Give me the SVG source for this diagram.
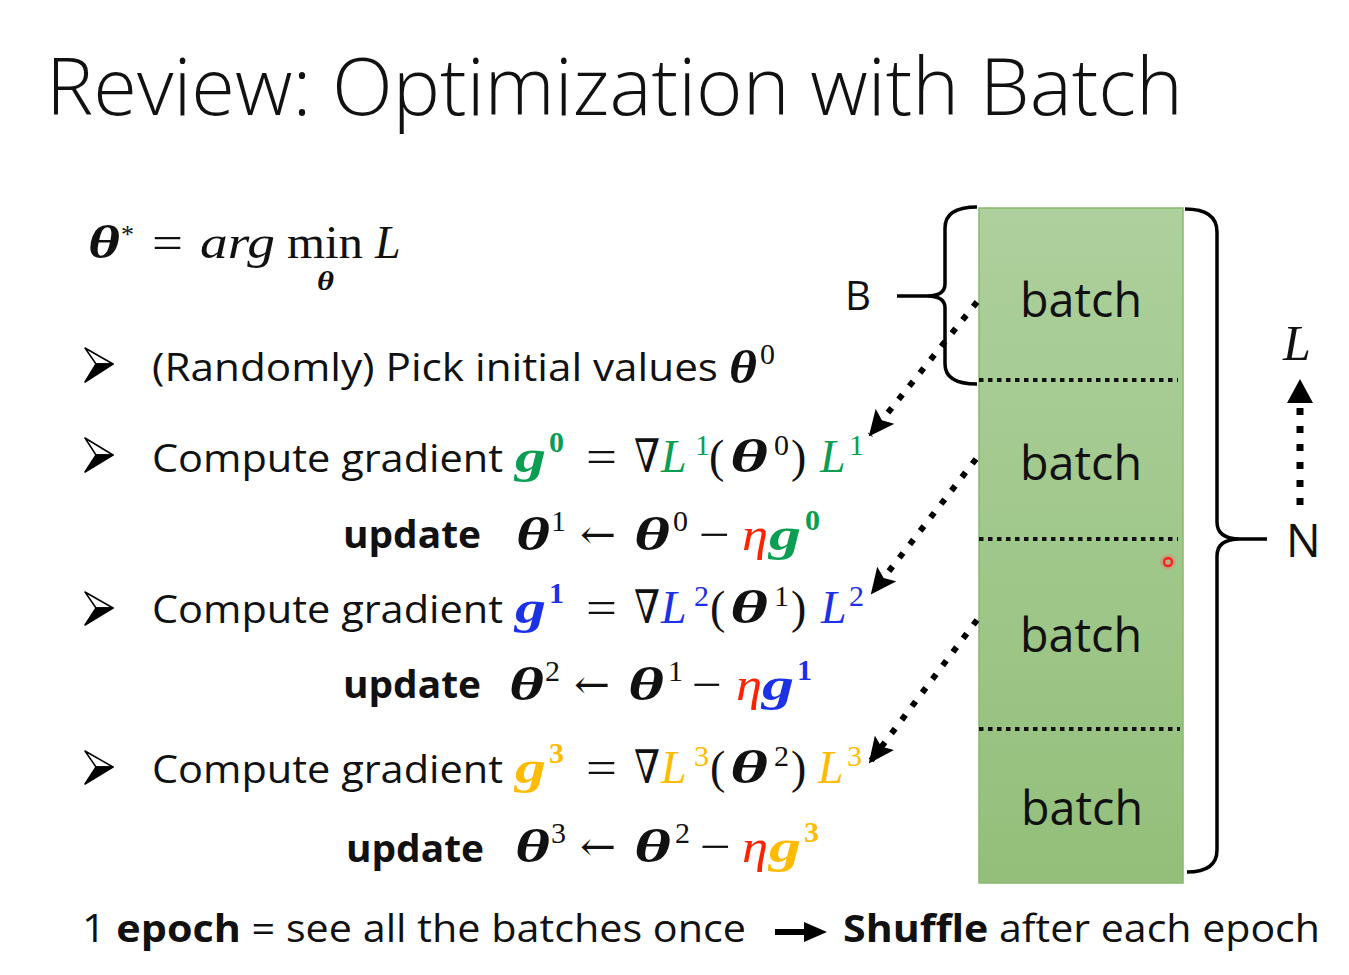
<svg xmlns="http://www.w3.org/2000/svg" width="1349" height="975" viewBox="0 0 1349 975">
<defs>
<linearGradient id="gr" x1="0" y1="0" x2="0" y2="1">
<stop offset="0" stop-color="#aed09d"/>
<stop offset="1" stop-color="#93bf7a"/>
</linearGradient>
<marker id="ah" viewBox="0 0 26 24" refX="24" refY="12" markerWidth="26" markerHeight="24" markerUnits="userSpaceOnUse" orient="auto">
<path d="M0,0 L26,12 L0,24 L5,12 Z" fill="#000"/>
</marker>
<style>
.s{font-family:"Open Sans","Liberation Sans",sans-serif;fill:#111}
.t{font-size:80px;font-weight:300}
.b{font-size:38px}
.bb{font-size:38px;font-weight:bold}
.bt{font-size:48px}
.m{font-family:"Liberation Serif","DejaVu Serif",serif;font-size:46px;fill:#111}
.mi{font-style:italic}
.mb{font-style:italic;font-weight:bold}
.sp{font-size:30px}
.spb{font-size:30px;font-weight:bold}
.ar{font-family:"DejaVu Serif",serif;font-size:40px}
.gn{fill:#0a9e52}
.bl{fill:#1c30e6}
.yl{fill:#ffbb00}
.rd{fill:#ff2200}
.dl{stroke:#000;stroke-width:6;fill:none;stroke-dasharray:6 11}
.sep{stroke:#111;stroke-width:4;stroke-dasharray:4.5 4.5;fill:none}
.br{stroke:#000;stroke-width:3.5;fill:none}
</style>
</defs>
<rect width="1349" height="975" fill="#fff"/>

<text class="s t" x="46" y="115" textLength="1137" lengthAdjust="spacingAndGlyphs">Review: Optimization with Batch</text>

<g id="objective">
<text class="m mb" x="88" y="258" textLength="32" lengthAdjust="spacingAndGlyphs">θ</text>
<text class="m" x="121" y="243" style="font-size:26px">*</text>
<text class="m" x="152" y="258" textLength="31" lengthAdjust="spacingAndGlyphs">=</text>
<text class="m mi" x="200" y="258" textLength="75" lengthAdjust="spacingAndGlyphs">arg</text>
<text class="m" x="287" y="258" textLength="76" lengthAdjust="spacingAndGlyphs">min</text>
<text class="m mi" x="375" y="258">L</text>
<text class="m mb" x="317" y="290" style="font-size:28px" textLength="17" lengthAdjust="spacingAndGlyphs">θ</text>
</g>

<g id="bullets">
<g id="b1">
<path d="M85,348 L113,364 L96,364 Z" fill="#fff" stroke="#000" stroke-width="1.5" stroke-linejoin="round"/>
<path d="M96,364 L113,364 L85,382 Z" fill="#000" stroke="#000" stroke-width="1.5" stroke-linejoin="round"/>
</g>
<g id="b2">
<path d="M85,438 L113,455 L96,455 Z" fill="#fff" stroke="#000" stroke-width="1.5" stroke-linejoin="round"/>
<path d="M96,455 L113,455 L85,472 Z" fill="#000" stroke="#000" stroke-width="1.5" stroke-linejoin="round"/>
</g>
<g id="b3">
<path d="M85,592 L113,608 L96,608 Z" fill="#fff" stroke="#000" stroke-width="1.5" stroke-linejoin="round"/>
<path d="M96,608 L113,608 L85,625 Z" fill="#000" stroke="#000" stroke-width="1.5" stroke-linejoin="round"/>
</g>
<g id="b4">
<path d="M85,751 L113,767 L96,767 Z" fill="#fff" stroke="#000" stroke-width="1.5" stroke-linejoin="round"/>
<path d="M96,767 L113,767 L85,784 Z" fill="#000" stroke="#000" stroke-width="1.5" stroke-linejoin="round"/>
</g>
</g>

<g id="init">
<text class="s b" x="152" y="381" textLength="566" lengthAdjust="spacingAndGlyphs">(Randomly) Pick initial values</text>
<text class="m mb" x="729" y="383" textLength="28" lengthAdjust="spacingAndGlyphs">θ</text>
<text class="m sp" x="760" y="364">0</text>
</g>

<g id="step1">
<text class="s b" x="152" y="472" textLength="351" lengthAdjust="spacingAndGlyphs">Compute gradient</text>
<text class="m mb gn" x="515" y="472" textLength="31" lengthAdjust="spacingAndGlyphs">g</text>
<text class="m spb gn" x="549" y="452">0</text>
<text class="m" x="586" y="472" textLength="31" lengthAdjust="spacingAndGlyphs">=</text>
<text class="m" x="634" y="472" textLength="26" lengthAdjust="spacingAndGlyphs">∇</text>
<text class="m mi gn" x="661" y="472">L</text>
<text class="m sp gn" x="695" y="455">1</text>
<text class="m" x="709" y="472">(</text>
<text class="m mb" x="730" y="472" textLength="38" lengthAdjust="spacingAndGlyphs">θ</text>
<text class="m sp" x="774" y="455">0</text>
<text class="m" x="791" y="472">)</text>
<text class="m mi gn" x="820" y="472">L</text>
<text class="m sp gn" x="849" y="455">1</text>
<text class="s bb" x="343" y="548" textLength="138" lengthAdjust="spacingAndGlyphs">update</text>
<text class="m mb" x="516" y="550" textLength="34" lengthAdjust="spacingAndGlyphs">θ</text>
<text class="m sp" x="551" y="531">1</text>
<text class="m ar" x="580" y="548" textLength="36" lengthAdjust="spacingAndGlyphs">←</text>
<text class="m mb" x="634" y="550" textLength="36" lengthAdjust="spacingAndGlyphs">θ</text>
<text class="m sp" x="673" y="531">0</text>
<text class="m" x="699" y="550" textLength="31" lengthAdjust="spacingAndGlyphs">−</text>
<text class="m mi rd" x="742" y="550" textLength="26" lengthAdjust="spacingAndGlyphs">η</text>
<text class="m mb gn" x="769" y="550" textLength="32" lengthAdjust="spacingAndGlyphs">g</text>
<text class="m spb gn" x="805" y="530">0</text>
</g>

<g id="step2">
<text class="s b" x="152" y="623" textLength="351" lengthAdjust="spacingAndGlyphs">Compute gradient</text>
<text class="m mb bl" x="515" y="623" textLength="31" lengthAdjust="spacingAndGlyphs">g</text>
<text class="m spb bl" x="549" y="603">1</text>
<text class="m" x="586" y="623" textLength="31" lengthAdjust="spacingAndGlyphs">=</text>
<text class="m" x="634" y="623" textLength="26" lengthAdjust="spacingAndGlyphs">∇</text>
<text class="m mi bl" x="661" y="623">L</text>
<text class="m sp bl" x="694" y="606">2</text>
<text class="m" x="710" y="623">(</text>
<text class="m mb" x="730" y="623" textLength="38" lengthAdjust="spacingAndGlyphs">θ</text>
<text class="m sp" x="774" y="606">1</text>
<text class="m" x="791" y="623">)</text>
<text class="m mi bl" x="821" y="623">L</text>
<text class="m sp bl" x="849" y="606">2</text>
<text class="s bb" x="343" y="698" textLength="138" lengthAdjust="spacingAndGlyphs">update</text>
<text class="m mb" x="509" y="700" textLength="35" lengthAdjust="spacingAndGlyphs">θ</text>
<text class="m sp" x="545" y="681">2</text>
<text class="m ar" x="574" y="698" textLength="36" lengthAdjust="spacingAndGlyphs">←</text>
<text class="m mb" x="628" y="700" textLength="36" lengthAdjust="spacingAndGlyphs">θ</text>
<text class="m sp" x="668" y="681">1</text>
<text class="m" x="692" y="700" textLength="30" lengthAdjust="spacingAndGlyphs">−</text>
<text class="m mi rd" x="736" y="700" textLength="26" lengthAdjust="spacingAndGlyphs">η</text>
<text class="m mb bl" x="762" y="700" textLength="32" lengthAdjust="spacingAndGlyphs">g</text>
<text class="m spb bl" x="797" y="680">1</text>
</g>

<g id="step3">
<text class="s b" x="152" y="783" textLength="351" lengthAdjust="spacingAndGlyphs">Compute gradient</text>
<text class="m mb yl" x="515" y="783" textLength="31" lengthAdjust="spacingAndGlyphs">g</text>
<text class="m spb yl" x="549" y="763">3</text>
<text class="m" x="586" y="783" textLength="31" lengthAdjust="spacingAndGlyphs">=</text>
<text class="m" x="634" y="783" textLength="26" lengthAdjust="spacingAndGlyphs">∇</text>
<text class="m mi yl" x="661" y="783">L</text>
<text class="m sp yl" x="694" y="766">3</text>
<text class="m" x="710" y="783">(</text>
<text class="m mb" x="730" y="783" textLength="38" lengthAdjust="spacingAndGlyphs">θ</text>
<text class="m sp" x="774" y="766">2</text>
<text class="m" x="791" y="783">)</text>
<text class="m mi yl" x="818" y="783">L</text>
<text class="m sp yl" x="847" y="766">3</text>
<text class="s bb" x="346" y="862" textLength="138" lengthAdjust="spacingAndGlyphs">update</text>
<text class="m mb" x="515" y="862" textLength="35" lengthAdjust="spacingAndGlyphs">θ</text>
<text class="m sp" x="551" y="843">3</text>
<text class="m ar" x="580" y="860" textLength="36" lengthAdjust="spacingAndGlyphs">←</text>
<text class="m mb" x="634" y="862" textLength="37" lengthAdjust="spacingAndGlyphs">θ</text>
<text class="m sp" x="675" y="843">2</text>
<text class="m" x="700" y="862" textLength="31" lengthAdjust="spacingAndGlyphs">−</text>
<text class="m mi rd" x="742" y="862" textLength="26" lengthAdjust="spacingAndGlyphs">η</text>
<text class="m mb yl" x="769" y="862" textLength="32" lengthAdjust="spacingAndGlyphs">g</text>
<text class="m spb yl" x="804" y="842">3</text>
</g>

<g id="data">
<rect x="979" y="208" width="204" height="675" fill="url(#gr)" stroke="#88b86c" stroke-width="1.5"/>
<path class="sep" d="M979,380 H1178 M979,539 H1178 M979,729 H1180"/>
<text class="s bt" x="1081" y="317" text-anchor="middle" textLength="122" lengthAdjust="spacingAndGlyphs">batch</text>
<text class="s bt" x="1081" y="480" text-anchor="middle" textLength="122" lengthAdjust="spacingAndGlyphs">batch</text>
<text class="s bt" x="1081" y="652" text-anchor="middle" textLength="122" lengthAdjust="spacingAndGlyphs">batch</text>
<text class="s bt" x="1082" y="825" text-anchor="middle" textLength="122" lengthAdjust="spacingAndGlyphs">batch</text>
<circle cx="1168" cy="562" r="8" fill="#ff6060" opacity="0.25"/>
<circle cx="1168" cy="562" r="4" fill="none" stroke="#ff2020" stroke-width="2.5"/>
</g>

<g id="braceB">
<path class="br" d="M977,207 Q945,207 945,228 L945,284 Q945,296 927,296 Q945,296 945,308 L945,364 Q945,384 977,384 M897,296 L927,296"/>
<text class="s" x="845" y="310" font-size="40" textLength="26" lengthAdjust="spacingAndGlyphs">B</text>
</g>

<g id="braceN">
<path class="br" d="M1185,209 Q1217,209 1217,232 L1217,522 Q1217,539 1240,539 Q1217,539 1217,556 L1217,850 Q1217,872 1187,872 M1240,539 L1267,539"/>
<text class="s" x="1286" y="557" font-size="46">N</text>
<text class="m mi" x="1283" y="360" style="font-size:50px">L</text>
</g>

<g id="connectors">
<path class="dl" d="M977,302 L870,435" marker-end="url(#ah)"/>
<path class="dl" d="M976,459 L872,593" marker-end="url(#ah)"/>
<path class="dl" d="M977,620 L870,762" marker-end="url(#ah)"/>
<path d="M1300,505 L1300,404" stroke="#000" stroke-width="7" stroke-dasharray="7 11" fill="none"/>
<path d="M1300,379 L1313,403 L1287,403 Z" fill="#000"/>
</g>

<g id="footer">
<text class="s b" x="82" y="942" textLength="664" lengthAdjust="spacingAndGlyphs">1 <tspan font-weight="bold">epoch</tspan> = see all the batches once</text>
<path d="M775,932 L808,932" stroke="#000" stroke-width="6"/>
<path d="M804,922 L827,932 L804,942 Z" fill="#000"/>
<text class="s b" x="843" y="942" textLength="477" lengthAdjust="spacingAndGlyphs"><tspan font-weight="bold">Shuffle</tspan> after each epoch</text>
</g>
</svg>
